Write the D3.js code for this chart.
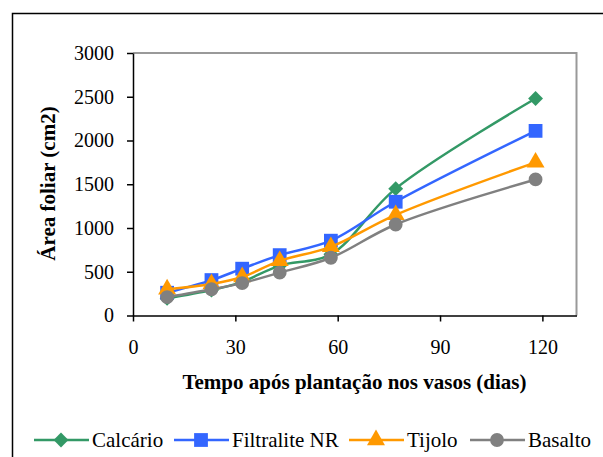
<!DOCTYPE html>
<html>
<head>
<meta charset="utf-8">
<script src="https://cdn.jsdelivr.net/npm/d3@7"></script>
<style>
    body { margin: 0; background: #fff; }
    .axis path, .axis line { stroke: #000; stroke-width: 1.5; }
</style>
</head>
<body>
<svg width="603" height="457"></svg>
<script>
// dias apos plantacao
var dias = [10, 23, 32, 43, 58, 77, 118];

var calcario = [195, 290, 385, 570, 700, 1450, 2480];
var filtralite = [260, 405, 535, 690, 855, 1300, 2110];
var tijolo = [300, 360, 440, 625, 785, 1150, 1750];
var basalto = [210, 300, 370, 490, 660, 1040, 1555];

var xTicks = [0, 30, 60, 90, 120];
var yTicks = [0, 500, 1000, 1500, 2000, 2500, 3000];

var series = [
    {name: "Calcário", values: calcario, color: "#339966", symbol: d3.symbolSquare, size: 110, rot: 45},
    {name: "Filtralite NR", values: filtralite, color: "#3366FF", symbol: d3.symbolSquare, size: 190, rot: 0},
    {name: "Tijolo", values: tijolo, color: "#FF9900", symbol: d3.symbolTriangle, size: 140, rot: 0},
    {name: "Basalto", values: basalto, color: "#808080", symbol: d3.symbolCircle, size: 150, rot: 0}
];

var serif = "'Liberation Serif', 'Times New Roman', Times, serif";

var svg = d3.select("svg"),
    margin = {top: 53, right: 26.5, bottom: 141.5, left: 133},
    width = +svg.attr("width") - margin.left - margin.right,
    height = +svg.attr("height") - margin.top - margin.bottom;

// moldura exterior (sai fora da imagem a direita e em baixo)
svg.append("rect")
    .attr("x", 12.5).attr("y", 13.5)
    .attr("width", 620).attr("height", 470)
    .attr("fill", "none")
    .attr("stroke", "#000")
    .attr("stroke-width", 1.5);

var x = d3.scaleLinear().domain([0, 130]).range([0, width]),
    y = d3.scaleLinear().domain([0, 3000]).range([height, 0]);

var g = svg.append("g")
    .attr("transform", "translate(" + margin.left + "," + margin.top + ")");

// borda da area do grafico (cima e direita cinzento)
g.append("path")
    .attr("d", "M0,0H" + width + "V" + height)
    .attr("fill", "none")
    .attr("stroke", "#999")
    .attr("stroke-width", 2);

g.append("g")
    .attr("class", "axis axis--x")
    .attr("transform", "translate(0," + height + ")")
    .call(d3.axisBottom(x).tickValues(xTicks).tickFormat(d3.format("d"))
        .tickSize(6).tickSizeOuter(0).tickPadding(18));

g.append("g")
    .attr("class", "axis axis--y")
    .call(d3.axisLeft(y).tickValues(yTicks).tickFormat(d3.format("d"))
        .tickSize(6).tickSizeOuter(0).tickPadding(13));

g.selectAll(".axis").attr("font-family", serif).attr("font-size", 20);
g.selectAll(".axis text").style("font-family", serif).attr("fill", "#000");

svg.append("text")
    .attr("transform", "translate(55," + 183.5 + ") rotate(-90)")
    .attr("text-anchor", "middle")
    .style("font-family", serif)
    .attr("font-size", "21px")
    .attr("font-weight", "bold")
    .text("Área foliar (cm2)");

svg.append("text")
    .attr("x", 354.5)
    .attr("y", 389)
    .attr("text-anchor", "middle")
    .style("font-family", serif)
    .attr("font-size", "21px")
    .attr("font-weight", "bold")
    .text("Tempo após plantação nos vasos (dias)");

var line = d3.line()
    .x(function (d, i) { return x(dias[i]); })
    .y(function (d) { return y(d); })
    .curve(d3.curveCatmullRom);

series.forEach(function (s) {
    g.append("path")
        .attr("d", line(s.values))
        .attr("fill", "none")
        .attr("stroke", s.color)
        .attr("stroke-width", 2.5);

    g.selectAll(null)
        .data(s.values)
        .enter().append("path")
        .attr("transform", function (d, i) {
            return "translate(" + x(dias[i]) + "," + y(d) + ") rotate(" + s.rot + ")";
        })
        .attr("d", d3.symbol().type(s.symbol).size(s.size))
        .attr("fill", s.color);
});

// legenda
var legendX = [34, 174, 349, 470];
var legend = svg.append("g").attr("transform", "translate(0,440)");
series.forEach(function (s, i) {
    var lg = legend.append("g").attr("transform", "translate(" + legendX[i] + ",0)");
    lg.append("line")
        .attr("x1", 0).attr("x2", 55)
        .attr("stroke", s.color)
        .attr("stroke-width", 2.5);
    lg.append("path")
        .attr("transform", "translate(27,0) rotate(" + s.rot + ")")
        .attr("d", d3.symbol().type(s.symbol).size(s.size))
        .attr("fill", s.color);
    lg.append("text")
        .attr("x", 58)
        .attr("y", 7)
        .style("font-family", serif)
        .attr("font-size", "21px")
        .text(s.name);
});
</script>
</body>
</html>
